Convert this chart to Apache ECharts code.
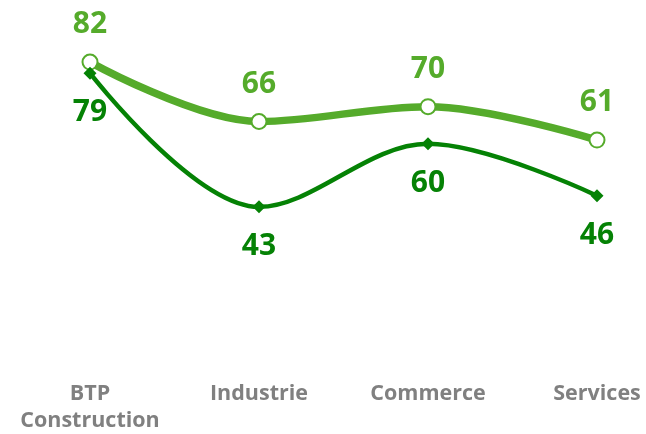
<!DOCTYPE html>
<html><head><meta charset="utf-8">
<script src="https://cdn.jsdelivr.net/npm/echarts@6/dist/echarts.min.js"></script>
<style>html,body{margin:0;padding:0;background:#fff}#c{width:646px;height:434px}</style>
</head><body><div id="c"></div>
<script>
const categories = ['BTP\nConstruction', 'Industrie', 'Commerce', 'Services'];
const seriesLight = [82, 66, 70, 61];
const seriesDark = [79, 43, 60, 46];
const LIGHT = '#55AB2B', DARK = '#058205';
const FONT = 'Open Sans';
const chart = echarts.init(document.getElementById('c'));
chart.setOption({
  animation: false,
  grid: { left: 90, right: 49, top: 32.4, bottom: 67 },
  xAxis: {
    type: 'category', data: categories, boundaryGap: false,
    axisLine: { show: false }, axisTick: { show: false },
    axisLabel: { color: '#808080', fontFamily: FONT, fontWeight: 'bold', fontSize: 21.5, margin: 13.5, lineHeight: 27, interval: 0 }
  },
  yAxis: { type: 'value', min: 0, max: 90, show: false, splitLine: { show: false } },
  series: [
    {
      type: 'line', data: seriesLight, smooth: 0.35,
      lineStyle: { color: LIGHT, width: 7.5 },
      symbol: 'circle', symbolSize: 15,
      itemStyle: { color: '#fff', borderColor: LIGHT, borderWidth: 2 },
      label: { show: true, position: 'top', distance: 14, color: LIGHT, fontFamily: FONT, fontWeight: 'bold', fontSize: 30 },
      z: 2
    },
    {
      type: 'line', data: seriesDark, smooth: 0.35,
      lineStyle: { color: DARK, width: 4.5 },
      symbol: 'diamond', symbolSize: 13,
      itemStyle: { color: DARK },
      label: { show: true, position: 'bottom', distance: 18, color: DARK, fontFamily: FONT, fontWeight: 'bold', fontSize: 30 },
      z: 3
    }
  ]
});
</script></body></html>
